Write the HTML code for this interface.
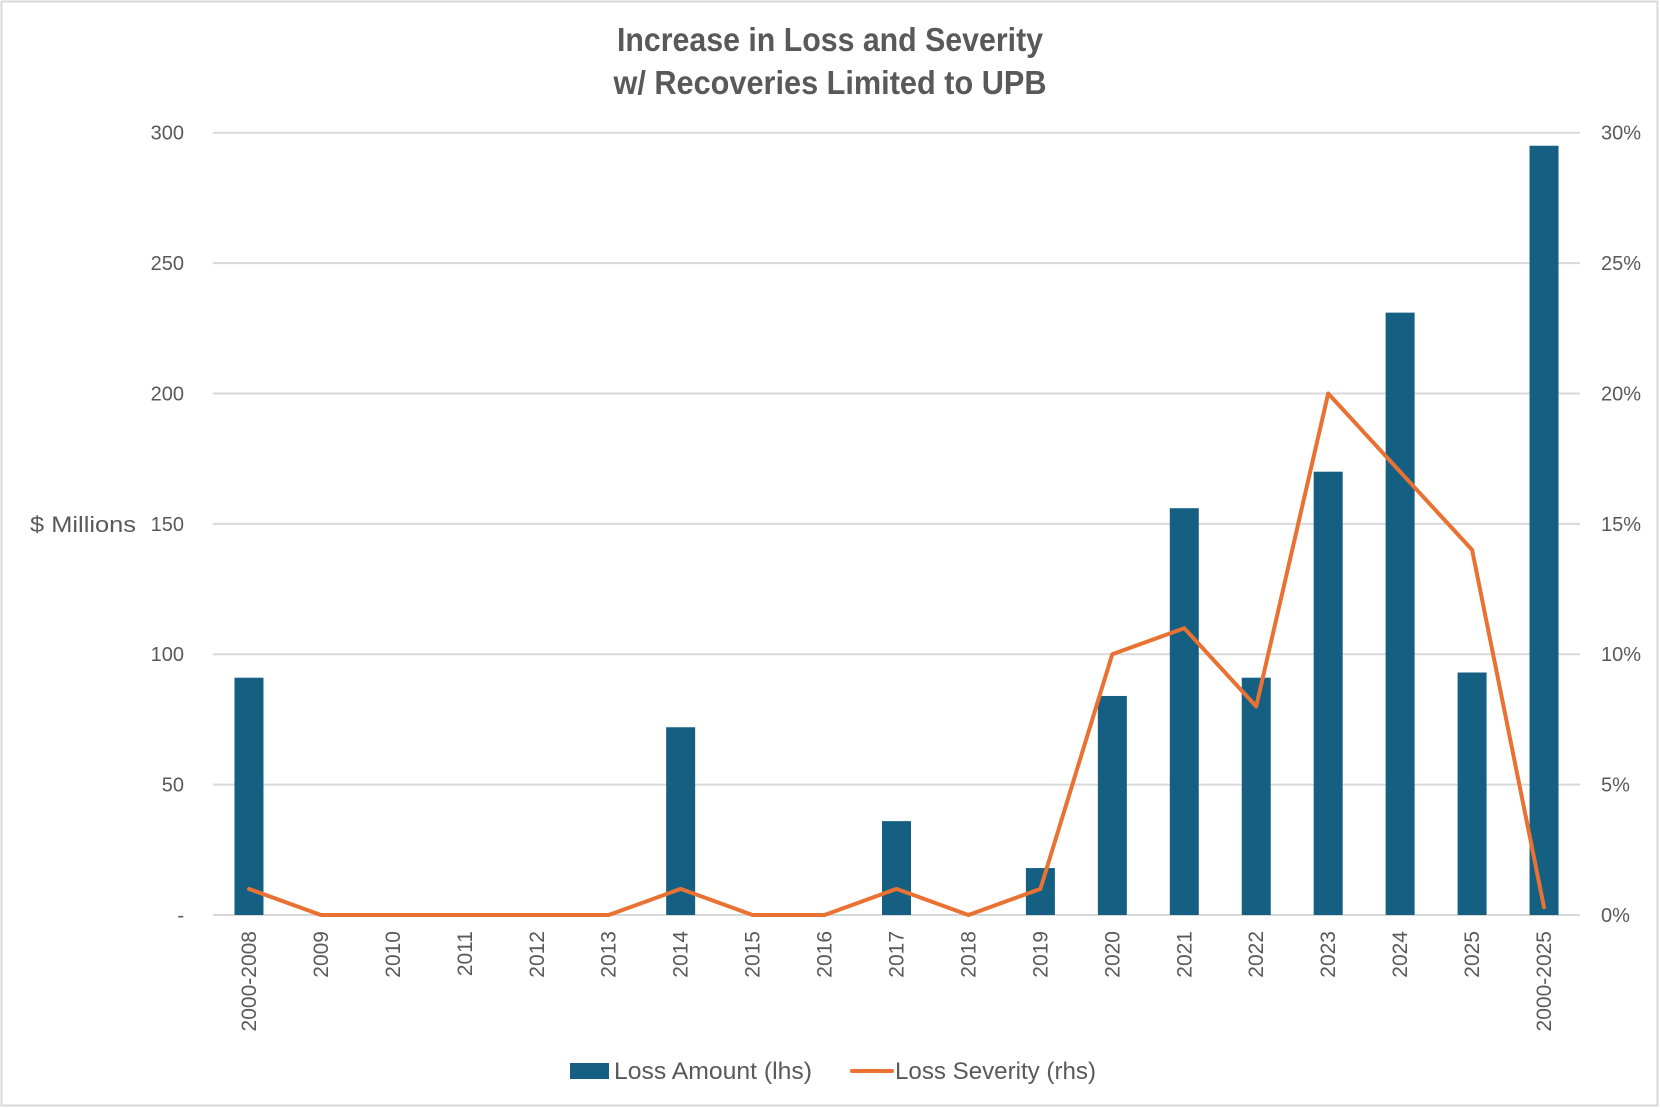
<!DOCTYPE html>
<html><head><meta charset="utf-8"><style>
html,body{margin:0;padding:0;background:#fff;}
svg{display:block;font-family:"Liberation Sans",sans-serif;}
</style></head><body>
<svg id="chart" width="1660" height="1108" viewBox="0 0 1660 1108" xmlns="http://www.w3.org/2000/svg">
<rect x="1.5" y="1.5" width="1656" height="1104" fill="#fff" stroke="#d9d9d9" stroke-width="2"/>
<text x="830" y="51" text-anchor="middle" font-size="33" font-weight="bold" fill="#595959" textLength="426" lengthAdjust="spacingAndGlyphs">Increase in Loss and Severity</text>
<text x="830" y="94" text-anchor="middle" font-size="33" font-weight="bold" fill="#595959" textLength="433" lengthAdjust="spacingAndGlyphs">w/ Recoveries Limited to UPB</text>
<text x="30" y="532" font-size="22" fill="#595959" textLength="106" lengthAdjust="spacingAndGlyphs">$ Millions</text>
<g id="grid"></g>
<g id="ylabels"></g>
<g id="rlabels"></g>
<g id="bars"></g>
<g id="line"></g>
<g id="xlabels"></g>
<g>
<rect x="570" y="1063" width="39" height="16" fill="#156082"/>
<text x="614" y="1079" font-size="24" fill="#595959" textLength="198" lengthAdjust="spacingAndGlyphs">Loss Amount (lhs)</text>
<line x1="852" y1="1071" x2="892" y2="1071" stroke="#e97132" stroke-width="4" stroke-linecap="round"/>
<text x="895" y="1079" font-size="24" fill="#595959" textLength="201" lengthAdjust="spacingAndGlyphs">Loss Severity (rhs)</text>
</g>
</svg>
<script>
const categories = ["2000-2008","2009","2010","2011","2012","2013","2014","2015","2016","2017","2018","2019","2020","2021","2022","2023","2024","2025","2000-2025"];
const lossAmount = [91,0,0,0,0,0,72,0,0,36,0,18,84,156,91,170,231,93,295];
const lossSeverity = [1,0,0,0,0,0,1,0,0,1,0,1,10,11,8,20,17,14,0.3];
const leftTicks = [0,50,100,150,200,250,300];
const leftTickLabels = ["-","50","100","150","200","250","300"];
const rightTicks = [0,5,10,15,20,25,30];
const rightTickLabels = ["0%","5%","10%","15%","20%","25%","30%"];

const NS = "http://www.w3.org/2000/svg";
const plotL = 213, plotR = 1580, plotT = 132.7, plotB = 915;
const band = (plotR - plotL) / categories.length;
const barW = 29;
function yL(v){ return plotB - v / 300 * (plotB - plotT); }
function yR(v){ return plotB - v / 30 * (plotB - plotT); }
function xC(i){ return plotL + band * (i + 0.5); }
function mk(tag, attrs, parent){
  const e = document.createElementNS(NS, tag);
  for (const k in attrs) e.setAttribute(k, attrs[k]);
  parent.appendChild(e);
  return e;
}
const grid = document.getElementById('grid');
const yl = document.getElementById('ylabels');
const rl = document.getElementById('rlabels');
leftTicks.forEach((t, i) => {
  const y = yL(t);
  const ln = mk('line', {x1: plotL, x2: plotR, y1: y, y2: y, stroke: '#d9d9d9', 'stroke-width': 2}, grid);
  
  
  const tx = mk('text', {x: 184, y: y + 7, 'text-anchor': 'end', 'font-size': 20, fill: '#595959'}, yl);
  tx.textContent = leftTickLabels[i];
  
  
});
rightTicks.forEach((t, i) => {
  const tx = mk('text', {x: 1601, y: yR(t) + 7, 'font-size': 20, fill: '#595959'}, rl);
  tx.textContent = rightTickLabels[i];
  
  
});
const bars = document.getElementById('bars');
lossAmount.forEach((v, i) => {
  if (v <= 0) return;
  const r = mk('rect', {x: xC(i) - barW / 2, y: yL(v), width: barW, height: plotB - yL(v), fill: '#156082'}, bars);
  
  
});
const pts = lossSeverity.map((v, i) => xC(i).toFixed(1) + ',' + yR(v).toFixed(1)).join(' ');
const pl = mk('polyline', {points: pts, fill: 'none', stroke: '#e97132', 'stroke-width': 4, 'stroke-linejoin': 'round', 'stroke-linecap': 'round'}, document.getElementById('line'));


const xl = document.getElementById('xlabels');
categories.forEach((c, i) => {
  const x = xC(i) + 7, y = 931;
  const tx = mk('text', {x: x, y: y, 'text-anchor': 'end', 'font-size': 21, fill: '#595959', transform: 'rotate(-90 ' + x + ' ' + y + ')'}, xl);
  tx.textContent = c;
  
  
});
</script>
</body></html>
